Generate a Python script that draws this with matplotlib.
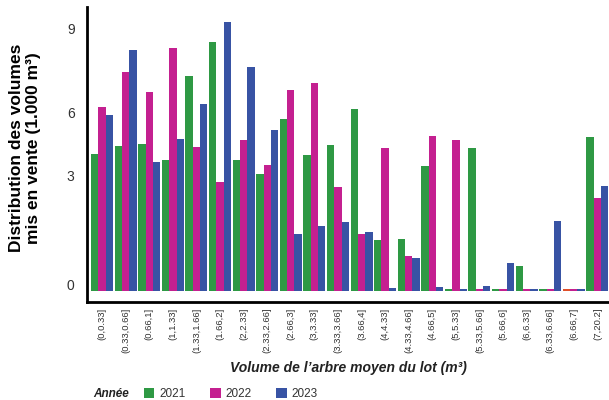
import matplotlib
matplotlib.use("Agg")
import matplotlib.pyplot as plt
import numpy as np

plt.rcParams["font.family"] = ["Liberation Sans", "DejaVu Sans"]

classes = ["(0,0.33]", "(0.33,0.66]", "(0.66,1]", "(1,1.33]", "(1.33,1.66]",
           "(1.66,2]", "(2,2.33]", "(2.33,2.66]", "(2.66,3]", "(3,3.33]",
           "(3.33,3.66]", "(3.66,4]", "(4,4.33]", "(4.33,4.66]", "(4.66,5]",
           "(5,5.33]", "(5.33,5.66]", "(5.66,6]", "(6,6.33]", "(6.33,6.66]",
           "(6.66,7]", "(7,20.2]"]

v2021 = [4.69, 4.97, 5.03, 4.49, 7.36, 8.53, 4.49, 4.01, 5.89, 4.66, 5.00,
         6.23, 1.75, 1.78, 4.28, 0.05, 4.90, 0.05, 0.86, 0.05, 0.05, 5.27]
v2022 = [6.30, 7.50, 6.82, 8.32, 4.93, 3.73, 5.17, 4.32, 6.88, 7.12, 3.56,
         1.95, 4.90, 1.20, 5.31, 5.17, 0.05, 0.05, 0.05, 0.05, 0.05, 3.18]
v2023 = [6.03, 8.25, 4.42, 5.21, 6.40, 9.21, 7.67, 5.51, 1.95, 2.23, 2.36,
         2.02, 0.10, 1.13, 0.14, 0.07, 0.17, 0.96, 0.05, 2.40, 0.05, 3.60]

years = ["2021", "2022", "2023"]
colors = ["#2e9944", "#c42090", "#3853a4"]

ytick_pos = [0.21, 3.94, 6.13, 9.01]
ytick_lab = ["0", "3", "6", "9"]

fig = plt.figure(figsize=(6.09, 4.0), dpi=100)
ax = fig.add_axes([87 / 609, 1 - 302 / 400, (608 - 87) / 609, (302 - 7) / 400])

x = np.arange(len(classes))
w = 0.31
handles = []
for i, (vals, col) in enumerate(zip([v2021, v2022, v2023], colors)):
    bar_cols = [col] * len(classes)
    if i == 0:
        bar_cols[20] = "#e0502a"
    b = ax.bar(x + (i - 1) * w, vals, width=w, color=bar_cols, linewidth=0)
    handles.append(b)

ax.set_xlim(-0.64, 21.45)
ax.set_ylim(-0.38, 9.73)

for s in ["top", "right"]:
    ax.spines[s].set_visible(False)
ax.spines["left"].set_linewidth(2)
ax.spines["bottom"].set_linewidth(2)

ax.set_xticks(x)
ax.set_xticklabels(classes, rotation=90, fontsize=6.8, color="#333333")
ax.set_yticks(ytick_pos)
ax.set_yticklabels(ytick_lab, fontsize=10, color="#333333")
ax.tick_params(axis="x", length=0, pad=4)
ax.tick_params(axis="y", length=0, pad=9)

fig.text(348 / 609, 1 - 368 / 400, "Volume de l\u2019arbre moyen du lot (m\u00b3)",
         ha="center", va="center", fontsize=10, fontweight="bold",
         fontstyle="italic", color="#222222")
fig.text(25 / 609, 1 - 148 / 400,
         "Distribution des volumes\nmis en vente (1.000 m\u00b3)",
         ha="center", va="center", rotation=90, fontsize=12.5,
         fontweight="bold", linespacing=1.1)

# legend row
fig.text(93 / 609, 1 - 394 / 400, "Ann\u00e9e", ha="left", va="center",
         fontsize=8.5, fontweight="bold", fontstyle="italic", color="#222222")
leg = fig.legend(handles, years, loc="center left",
                 bbox_to_anchor=(133 / 609, 1 - 394 / 400), ncol=3,
                 frameon=False, fontsize=8.5, handlelength=0.9,
                 handleheight=0.9, handletextpad=0.4, columnspacing=2.1)
for t in leg.get_texts():
    t.set_color("#333333")

fig.savefig("out.png", dpi=100)
